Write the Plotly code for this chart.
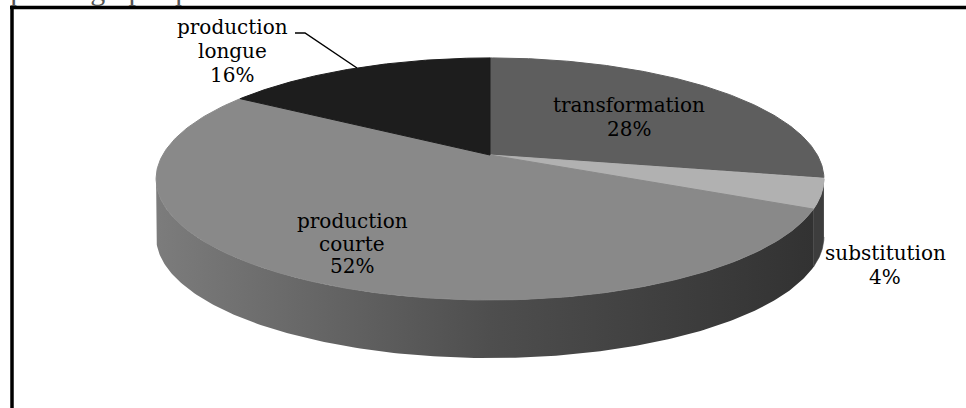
import numpy as np
import plotly.graph_objects as go

# ---- data ----
categories = ["transformation", "substitution", "production courte", "production longue"]
values = [28, 4, 52, 16]
top_colors = ["#5e5e5e", "#b1b1b1", "#898989", "#1d1d1d"]
side_colors = ["#3a3a3a", "#3d3d3d", None, "#151515"]  # None -> gradient
label_pos = {  # (x center, first-line center y, line step)
    "transformation": (629, 105, 24),
    "substitution": (885, 253, 23.5),
    "production courte": (352, 221, 22.5),
    "production longue": (232, 27, 24),
}
caption = "que du graphique 3"

# ---- 3D pie geometry (pixel space) ----
W, H = 966, 408
cx, cy = 490.0, 155.0
sx, sy = 327.3, 116.3
k = 0.198
depth = 58.0


def proj(theta_deg):
    t = np.radians(theta_deg)
    u, v = np.cos(t), np.sin(t)
    w = 1 + k * v
    return cx + sx * u / w, cy - sy * v / w


fig = go.Figure()

total = float(sum(values))
starts, ends = [], []
acc = 0.0
for v in values:
    starts.append(90 - acc / total * 360)
    acc += v
    ends.append(90 - acc / total * 360)

front_lo, front_hi = -180 + np.degrees(np.arcsin(k)), -np.degrees(np.arcsin(k))

# sides
for i, (s, e) in enumerate(zip(starts, ends)):
    hi = min(s, front_hi)
    lo = max(e, front_lo)
    if hi <= lo:
        continue
    th = np.linspace(hi, lo, 200)
    x, y = proj(th)
    xs = np.concatenate([x, x[::-1]])
    ys = np.concatenate([y, (y + depth)[::-1]])
    if side_colors[i] is None:
        xmin, xmax = x.min(), x.max()
        mid = (490 - xmin) / (xmax - xmin)
        fig.add_trace(go.Scatter(
            x=xs, y=ys, fill="toself", mode="lines",
            fillgradient=dict(type="horizontal",
                              colorscale=[[0, "rgb(124,124,124)"], [mid, "rgb(78,78,78)"],
                                          [1, "rgb(50,50,50)"]]),
            line=dict(width=0), hoverinfo="skip", showlegend=False))
    else:
        col = side_colors[i]
        fig.add_trace(go.Scatter(x=xs, y=ys, fill="toself", mode="lines",
                                 fillcolor=col, line=dict(color=col, width=0.6),
                                 hoverinfo="skip", showlegend=False))

# top faces
for i, (s, e) in enumerate(zip(starts, ends)):
    th = np.linspace(s, e, 200)
    x, y = proj(th)
    xs = np.concatenate([[cx], x, [cx]])
    ys = np.concatenate([[cy], y, [cy]])
    fig.add_trace(go.Scatter(x=xs, y=ys, fill="toself", mode="lines",
                             fillcolor=top_colors[i], line=dict(color=top_colors[i], width=1),
                             name=categories[i], hoverinfo="name", showlegend=False))

# labels
font = dict(family="DejaVu Serif", size=20, color="#000000")
for name, v in zip(categories, values):
    x0, y0, step = label_pos[name]
    lines = name.split(" ") + [f"{v}%"]
    for j, ln in enumerate(lines):
        fig.add_annotation(x=x0, y=y0 + j * step, text=ln, showarrow=False,
                           xanchor="center", yanchor="middle", font=font)

# leader line for "production longue"
fig.add_trace(go.Scatter(x=[295, 305, 357], y=[33, 33, 68], mode="lines",
                         line=dict(color="black", width=1.5), hoverinfo="skip",
                         showlegend=False))

# frame
fig.add_shape(type="line", x0=10, x1=W + 5, y0=7.5, y1=7.5, line=dict(color="black", width=3.5))
fig.add_shape(type="line", x0=12, x1=12, y0=6, y1=H + 5, line=dict(color="black", width=3.5))

# cut-off caption above frame (only its lower edge shows, as in the source)
fig.add_annotation(x=0, y=1, xref="paper", yref="paper", text=caption,
                   showarrow=False, xanchor="left", yanchor="middle", yshift=11,
                   font=dict(family="Liberation Serif", size=30, color="#555"))

fig.update_layout(
    width=W, height=H, autosize=False,
    margin=dict(l=0, r=0, t=0, b=0),
    paper_bgcolor="white", plot_bgcolor="white",
    xaxis=dict(range=[0, W], visible=False, fixedrange=True),
    yaxis=dict(range=[H, 0], visible=False, fixedrange=True),
    showlegend=False,
)

fig.write_html("out.html")
